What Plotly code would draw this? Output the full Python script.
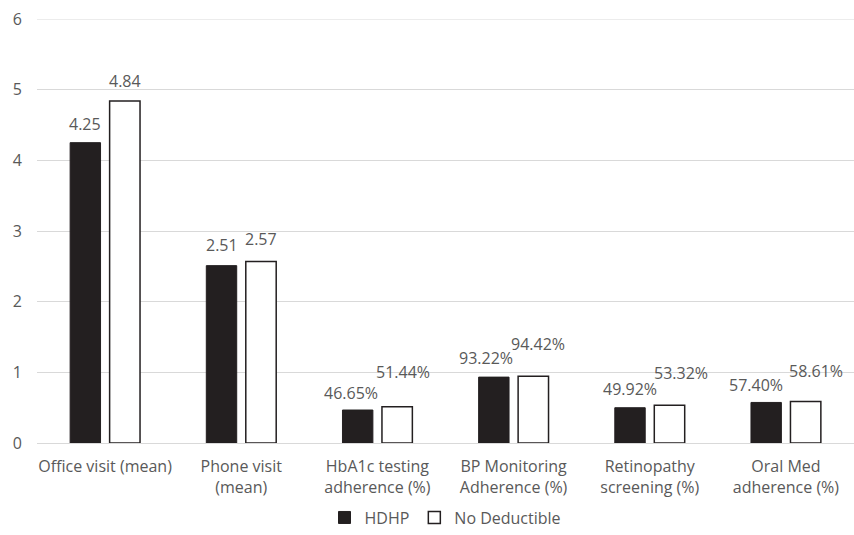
import plotly.graph_objects as go

# Measures compared between plan types
categories = [
    "Office visit (mean)",
    "Phone visit<br>(mean)",
    "HbA1c testing<br>adherence (%)",
    "BP Monitoring<br>Adherence (%)",
    "Retinopathy<br>screening (%)",
    "Oral Med<br>adherence (%)",
]
# First two are counts, the rest are adherence rates (fractions)
is_rate = [False, False, True, True, True, True]
hdhp = [4.25, 2.51, 0.4665, 0.9322, 0.4992, 0.5740]
no_deductible = [4.84, 2.57, 0.5144, 0.9442, 0.5332, 0.5861]

y_ticks = [0, 1, 2, 3, 4, 5, 6]

# Pixel nudges for the value labels (x, y) per series
hdhp_dx = [0, 0, -7, -8, 0, -10]
hdhp_dy = [19, 21, 17, 19, 19, 17]
nd_dx = [0, 0, 6, 5, 11, 10]
nd_dy = [20, 22, 35, 32, 32, 31]

FONT = "Open Sans"
GREY = "#595959"
DARK = "#231f20"
GRID = "#d9d9d9"
SIZE = 16


def fmt(v, rate):
    return f"{v:.2%}" if rate else f"{v:.2f}"


fig = go.Figure()
fig.add_trace(go.Bar(
    name="HDHP", x=categories, y=hdhp,
    marker=dict(color=DARK, line=dict(color=DARK, width=1)),
))
fig.add_trace(go.Bar(
    name="No Deductible", x=categories, y=no_deductible,
    marker=dict(color="white", line=dict(color=DARK, width=1.5)),
))

half_slot = 19.75
annotations = []
for i, cat in enumerate(categories):
    annotations.append(dict(
        x=cat, y=hdhp[i], xref="x", yref="y",
        text=fmt(hdhp[i], is_rate[i]), showarrow=False,
        xshift=-half_slot + hdhp_dx[i], yshift=hdhp_dy[i], yanchor="middle",
        font=dict(family=FONT, size=SIZE, color=GREY),
    ))
    annotations.append(dict(
        x=cat, y=no_deductible[i], xref="x", yref="y",
        text=fmt(no_deductible[i], is_rate[i]), showarrow=False,
        xshift=half_slot + nd_dx[i], yshift=nd_dy[i], yanchor="middle",
        font=dict(family=FONT, size=SIZE, color=GREY),
    ))

fig.update_layout(
    width=854, height=535,
    margin=dict(l=37, r=0, t=19, b=92, autoexpand=False),
    plot_bgcolor="white", paper_bgcolor="white",
    barmode="group", bargap=0.42, bargroupgap=0.23,
    font=dict(family=FONT, size=SIZE, color=GREY),
    annotations=annotations,
    showlegend=True,
    legend=dict(
        orientation="h", x=0.5, xanchor="center", y=-0.216, yanchor="bottom",
        font=dict(family=FONT, size=SIZE, color=GREY),
        itemwidth=30, traceorder="normal", tracegroupgap=0,
        bgcolor="rgba(0,0,0,0)",
    ),
    # top gridline at the axis maximum
    shapes=[dict(
        type="line", xref="paper", yref="y", x0=0, x1=1,
        y0=y_ticks[-1], y1=y_ticks[-1], layer="below",
        line=dict(color=GRID, width=1),
    )],
)
fig.update_xaxes(
    showgrid=False, showline=False, ticks="", automargin=False,
    ticklabelstandoff=12,
    tickfont=dict(family=FONT, size=SIZE, color=GREY),
)
fig.update_yaxes(
    range=[0, 6], tickvals=y_ticks, showgrid=True, gridcolor=GRID,
    gridwidth=1, zeroline=True, zerolinecolor=GRID, zerolinewidth=1,
    showline=False, ticks="", ticklabelstandoff=14, automargin=False,
    tickfont=dict(family=FONT, size=SIZE, color=GREY),
)

fig.write_html("out.html")
